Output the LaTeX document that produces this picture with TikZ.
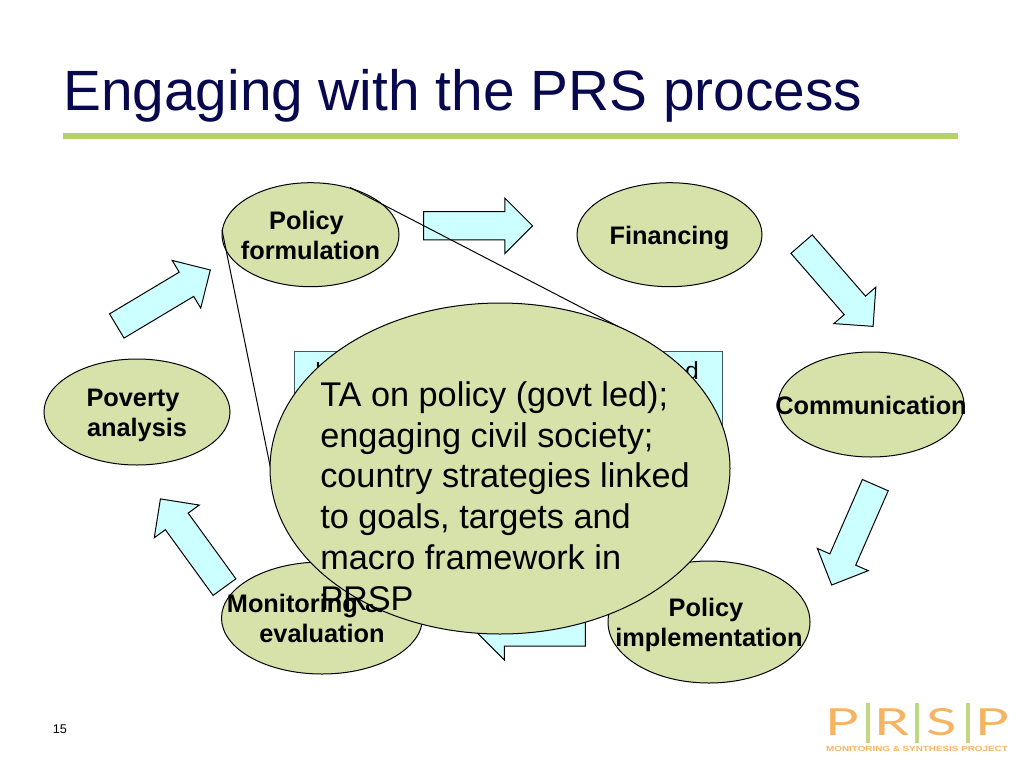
\documentclass[tikz,border=0pt]{standalone}
\usepackage{fontspec}
\setmainfont{Liberation Sans}
\newfontfamily\logoFont{Lato}
\usepackage{tikz}
\usetikzlibrary{
    shapes.geometric,
    shapes.arrows
}
\definecolor{slideNavy}{RGB}{8, 8, 78}
\definecolor{slideBar}{RGB}{181, 209, 106}
\definecolor{ovalGreen}{RGB}{215, 225, 170}
\definecolor{arrowCyan}{RGB}{204, 255, 255}
\definecolor{boxEdge}{RGB}{60, 90, 100}
\definecolor{logoOrange}{RGB}{245, 180, 100}

\tikzset{
    oval/.style 2 args={ellipse, draw, fill=ovalGreen, inner sep=0pt, line width=0.75pt,
        minimum width=#1*0.75pt, minimum height=#2*0.75pt},
    flow/.style={single arrow, draw, fill=arrowCyan, inner xsep=0pt, inner ysep=13.6*0.75pt,
        line width=0.75pt, minimum height=109*0.75pt,
        single arrow head extend=13.7*0.75pt, single arrow tip angle=90,
        single arrow head indent=0pt},
    stage/.style={align=center, font=\fontsize{19}{22.5}\selectfont\bfseries},
    logoBar/.style={line width=2.6pt, slideBar!85!white},
    logoLetter/.style={logoOrange, inner sep=0pt, xscale=1.5, font=\logoFont\fontsize{28}{28}\selectfont}
}

\begin{document}
\begin{tikzpicture}[x=0.75pt, y=-0.75pt]
        \useasboundingbox (0, 0) rectangle (1024, 768);

        % Title
        \node[anchor=west, inner sep=0pt, slideNavy, font=\fontsize{42.6}{50}\selectfont] (title) at (63, 96) {Engaging with the PRS process};
        \fill[slideBar] (63, 133) rectangle (958, 139);

        % Box behind
        \draw[boxEdge, fill=arrowCyan, line width=0.75pt] (294, 351.5) rectangle (722, 480);
        \node[font=\fontsize{18.5}{20}\selectfont, inner sep=0pt, anchor=base] (boxLeft) at (318, 380) {l};
        \node[font=\fontsize{18.5}{20}\selectfont, inner sep=0pt, anchor=base] (boxRight) at (692, 379) {d};

        % Block arrows
        \node[flow] (arrowTop) at (471, 225.8) {};
        \node[flow, rotate=-49] (arrowRight) at (832.7, 279.9) {};
        \node[flow, rotate=246.4] (arrowLower) at (856.3, 528.6) {};
        \node[flow, rotate=180] (arrowBottom) at (538, 632) {};
        \node[flow, rotate=126] (arrowBack) at (196.6, 548.7) {};
        \node[flow, rotate=30.9] (arrowUp) at (157.5, 301.6) {};

        % Stages
        \node[oval={177}{104}] (policyOval) at (310.5, 234.7) {};
        \node[oval={185}{104}] (financeOval) at (669.5, 234.7) {};
        \node[oval={186}{105}] (commOval) at (871, 404.5) {};
        \node[oval={202}{122}] (implOval) at (709, 622) {};
        \node[oval={201}{112}] (monitorOval) at (322, 618) {};
        \node[oval={186}{106}] (povertyOval) at (137, 412) {};

        \node[stage] (policyText) at (310.5, 235.5) {Policy\hspace*{6pt}\\formulation};
        \node[stage] (financeText) at (669.5, 238) {Financing};
        \node[stage] (commText) at (871, 405) {Communication};
        \node[stage] (implText) at (709, 624.5) {Policy\hspace*{4.5pt}\\implementation};
        \node[stage] (monitorText) at (322, 618.5) {Monitoring \&\hspace*{25.5pt}\\evaluation};
        \node[stage] (povertyText) at (137, 415.5) {Poverty\hspace*{6pt}\\analysis};

        % Callout
        \coordinate (calloutA) at (222, 230);
        \coordinate (calloutB) at (350, 187.5);
        \coordinate (calloutC) at (275, 490);
        \coordinate (calloutD) at (650, 343);
        \draw[line width=0.75pt] (calloutA) -- (calloutC);
        \draw[line width=0.75pt] (calloutB) -- (calloutD);
        \node[oval={460}{331}] (bigOval) at (500, 468.5) {};
        \node[anchor=north west, align=left, inner sep=0pt, font=\fontsize{25.7}{30.7}\selectfont] (bigText) at (320, 381)
            {TA on policy (govt led);\\engaging civil society;\\country strategies linked\\to goals, targets and\\macro framework in\\PRSP};

        % Page number
        \node[font=\fontsize{9.5}{11}\selectfont, inner sep=0pt] (pageNo) at (60, 729) {15};

        % Logo
        \node[logoLetter] (logoP) at (842, 722.5) {P};
        \node[logoLetter] (logoR) at (892.5, 722.5) {R};
        \node[logoLetter] (logoS) at (941.5, 722.5) {S};
        \node[logoLetter] (logoQ) at (992, 722.5) {P};
        \draw[logoBar] (868, 703) -- (868, 743);
        \draw[logoBar] (917, 703) -- (917, 743);
        \draw[logoBar] (968, 703) -- (968, 743);
        \node[logoOrange, inner sep=0pt, xscale=1.32, font=\fontsize{5.6}{6}\selectfont\bfseries] (logoLine) at (917, 748.5) {MONITORING \& SYNTHESIS PROJECT};
    \end{tikzpicture}
\end{document}
